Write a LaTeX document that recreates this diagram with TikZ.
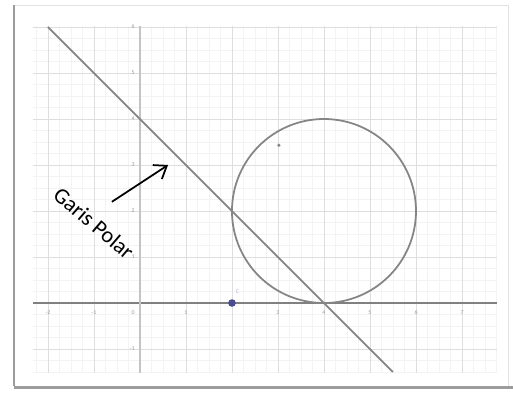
\documentclass[tikz,border=0pt]{standalone}
\usepackage{fontspec}
\setmainfont{Carlito}
\usepackage{tikz}
\usetikzlibrary{arrows.meta}
\definecolor{ggbMinor}{HTML}{F3F3F3}
\definecolor{ggbGrid}{HTML}{DEDEDE}
\definecolor{ggbAxis}{HTML}{808080}
\definecolor{ggbYAxis}{HTML}{C4C4C4}
\definecolor{ggbCurve}{HTML}{858585}
\definecolor{ggbTick}{HTML}{9A9A9A}
\definecolor{ggbPoint}{HTML}{4B4B8F}
\definecolor{frameShade}{HTML}{9C9C9C}
\definecolor{frameLight}{HTML}{E2E2E2}

\begin{document}
\begin{tikzpicture}[
  x=1.38cm, y=1.38cm,
  minorgrid/.style={draw=ggbMinor, line width=.3pt},
  majorgrid/.style={draw=ggbGrid, line width=.6pt},
  axis/.style={draw=ggbAxis, line width=1.2pt},
  curve/.style={draw=ggbCurve, line width=1.5pt},
  ticklabel/.style={font=\fontsize{5}{6}\selectfont, text=ggbTick, inner sep=1pt},
  pointer/.style={-{Straight Barb[length=3.4mm,width=5mm]}, line width=1.5pt, draw=black},
  caption/.style={font=\fontsize{19}{22}\selectfont, rotate=-40.5, inner sep=0pt},
  dot/.style={circle, inner sep=0pt}
]
  \useasboundingbox[fill=white] (-3.043,-1.978) rectangle (8.109,6.587);

  \draw[frameLight, line width=.8pt] (-2.739,6.478) -- (8.0,6.478) -- (8.0,-1.804);
  \draw[frameShade, line width=2pt] (-2.739,6.478) -- (-2.739,-1.804);
  \draw[frameShade, line width=2.6pt] (-2.739,-1.83) -- (8.109,-1.83);

  \draw[minorgrid, step=.25] (-2.33,-1.52) grid (7.76,6.02);
  \draw[majorgrid, step=1] (-2.33,-1.52) grid (7.76,6.02);
  \draw[axis] (-2.33,0) -- (7.76,0);
  \draw[axis, draw=ggbYAxis] (0,-1.52) -- (0,6.02);

  \foreach \x in {-2,-1,1,3,4,5,6,7} {
    \node[ticklabel] at (\x,-.2) {\x};
  }
  \node[ticklabel] at (-.15,-.2) {0};
  \foreach \y in {1,...,6} {
    \node[ticklabel] at (-.15,\y) {\y};
  }
  \node[ticklabel] at (-.17,-1) {-1};

  \coordinate (polarTop) at (-2,6);
  \coordinate (polarEnd) at (5.5,-1.5);
  \draw[curve] (polarTop) -- (polarEnd);

  \coordinate (center) at (4,2);
  \draw[curve] (center) circle[radius=2];

  \node[dot, fill=ggbCurve, minimum size=3pt] (pB) at (3.02,3.43) {};
  \node[dot, fill=ggbPoint, minimum size=6.5pt] (pC) at (2,0) {};
  \node[ticklabel, text=ggbPoint!45] (pClabel) at (2.12,.24) {C};

  \coordinate (arrowTail) at (-.61,2.2);
  \coordinate (arrowHead) at (.61,3.0);
  \draw[pointer] (arrowTail) -- (arrowHead);
  \node[caption] (polarName) at (-1.0,1.74) {Garis Polar};
\end{tikzpicture}
\end{document}
